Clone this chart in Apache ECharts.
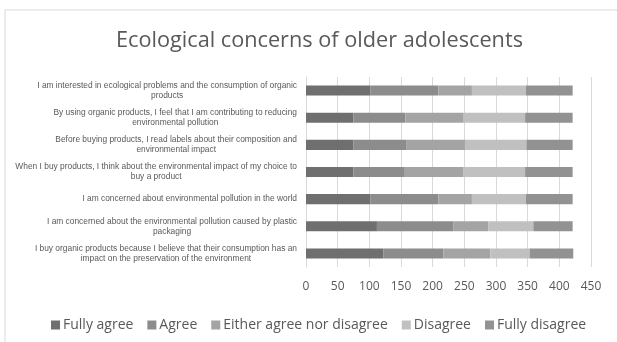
<!DOCTYPE html>
<html lang="en">
<head>
    <meta charset="UTF-8">
    <title>Ecological concerns of older adolescents</title>
    <script src="https://cdn.jsdelivr.net/npm/echarts@6/dist/echarts.min.js"></script>
    <style>
        html, body { margin: 0; padding: 0; background: #fff; }
        #chart { width: 617px; height: 342px; }
    </style>
</head>
<body>
<div id="chart"></div>
<script>
    // statements, top to bottom as in the picture
    var statements = [
        'I am interested in ecological problems and the consumption of organic\nproducts',
        'By using organic products, I feel that I am contributing to reducing\nenvironmental pollution',
        'Before buying products, I read labels about their composition and\nenvironmental impact',
        'When I buy products, I think about the environmental impact of my choice to\nbuy a product',
        'I am concerned about environmental pollution in the world',
        'I am concerned about the environmental pollution caused by plastic\npackaging',
        'I buy organic products because I believe that their consumption has an\nimpact on the preservation of the environment'
    ];
    var answers = ['Fully agree', 'Agree', 'Either agree nor disagree', 'Disagree', 'Fully disagree'];

    var fullyAgree    = [102, 75, 75, 75, 102, 112, 122];
    var agree         = [107, 82, 83, 81, 107, 121, 95];
    var eitherAgree   = [53, 92, 93, 92, 53, 55, 74];
    var disagree      = [85, 97, 97, 98, 85, 71, 62];
    var fullyDisagree = [74, 75, 73, 75, 74, 62, 69];

    var xTicks = [0, 50, 100, 150, 200, 250, 300, 350, 400, 450];

    var colors = ['#6f6f6f', '#8c8c8c', '#a4a4a4', '#c0c0c0', '#929292'];
    var values = [fullyAgree, agree, eitherAgree, disagree, fullyDisagree];

    var series = [];
    for (var i = 0; i < answers.length; i++) {
        series.push({
            name: answers[i],
            type: 'bar',
            stack: 'total',
            barCategoryGap: '63%',
            itemStyle: { color: colors[i] },
            data: values[i]
        });
    }

    var myChart = echarts.init(document.getElementById('chart'));
    var option = {
        animation: false,
        color: colors,
        graphic: [{
            type: 'rect',
            shape: { x: 5, y: 10, width: 640, height: 360 },
            style: { fill: 'none', stroke: '#d9d9d9', lineWidth: 1 },
            silent: true
        }],
        title: {
            text: 'Ecological concerns of older adolescents',
            left: 111,
            top: 25,
            textStyle: {
                fontFamily: 'Open Sans',
                fontWeight: 'normal',
                fontSize: 21.7,
                color: '#595959'
            }
        },
        legend: {
            top: 313,
            left: 46,
            itemWidth: 9,
            itemHeight: 9,
            itemGap: 14,
            icon: 'rect',
            textStyle: {
                fontFamily: 'Open Sans',
                fontSize: 14,
                padding: [0, 0, 0, -2],
                color: '#595959'
            },
            data: answers
        },
        grid: {
            left: 306,
            right: 26,
            top: 77,
            bottom: 75,
            containLabel: false
        },
        xAxis: {
            type: 'value',
            min: xTicks[0],
            max: xTicks[xTicks.length - 1],
            interval: 50,
            axisLine: { show: false },
            axisTick: { show: false },
            splitLine: { lineStyle: { color: '#d9d9d9' } },
            axisLabel: {
                margin: 14,
                fontFamily: 'Open Sans',
                fontSize: 12,
                color: '#595959'
            }
        },
        yAxis: {
            type: 'category',
            inverse: true,
            data: statements,
            axisLine: { lineStyle: { color: '#d9d9d9' } },
            axisTick: { show: false },
            axisLabel: {
                margin: 9,
                align: 'right',
                formatter: function (v) {
                    return v.split('\n').map(function (s) { return '{c|' + s + '}'; }).join('\n');
                },
                rich: {
                    c: {
                        align: 'center',
                        fontFamily: 'Liberation Sans',
                        fontSize: 8.4,
                        lineHeight: 10,
                        color: '#595959'
                    }
                }
            }
        },
        series: series
    };
    myChart.setOption(option, true);
</script>
</body>
</html>
